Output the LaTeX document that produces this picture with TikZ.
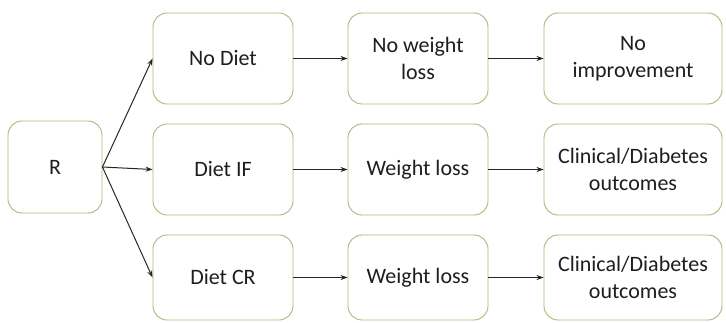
\documentclass[tikz,border=0pt]{standalone}
\usepackage{fontspec}
\setmainfont{Carlito}
\usetikzlibrary{arrows.meta}
\definecolor{boxgreen}{RGB}{160,190,120}
\definecolor{txt}{RGB}{30,30,30}
\begin{document}
\begin{tikzpicture}[x=1pt,y=1pt,
  box/.style={draw=boxgreen, line width=0.9pt, rounded corners=14pt, fill=white,
    align=center, text=txt, inner sep=0pt, font=\fontsize{22}{27}\selectfont},
  link/.style={draw=black!85, line width=1pt, -{Stealth[length=7pt,width=5pt]}}]
\useasboundingbox (0,0) rectangle (726,322);
\node[box, minimum width=94pt, minimum height=92pt] (R) at (55,155) {R};
\node[box, minimum width=140pt, minimum height=91pt] (a1) at (223,263.5) {No Diet};
\node[box, minimum width=140pt, minimum height=91pt] (b1) at (223,152.5) {Diet IF};
\node[box, minimum width=140pt, minimum height=85pt] (c1) at (223,44.5) {Diet CR};
\node[box, minimum width=140pt, minimum height=91pt] (a2) at (418,263.5) {No weight\\loss};
\node[box, minimum width=140pt, minimum height=91pt] (b2) at (418,152.5) {Weight loss};
\node[box, minimum width=140pt, minimum height=85pt] (c2) at (418,44.5) {Weight loss};
\node[box, minimum width=178pt, minimum height=91pt] (a3) at (633,263.5) {No\\improvement};
\node[box, minimum width=178pt, minimum height=91pt] (b3) at (633,152.5) {Clinical/Diabetes\\outcomes};
\node[box, minimum width=178pt, minimum height=85pt] (c3) at (633,44.5) {Clinical/Diabetes\\outcomes};
\draw[link] (R.east) -- (a1.west);
\draw[link] (R.east) -- (b1.west);
\draw[link] (R.east) -- (c1.west);
\draw[link] (a1) -- (a2);
\draw[link] (b1) -- (b2);
\draw[link] (c1) -- (c2);
\draw[link] (a2) -- (a3);
\draw[link] (b2) -- (b3);
\draw[link] (c2) -- (c3);
\end{tikzpicture}
\end{document}
